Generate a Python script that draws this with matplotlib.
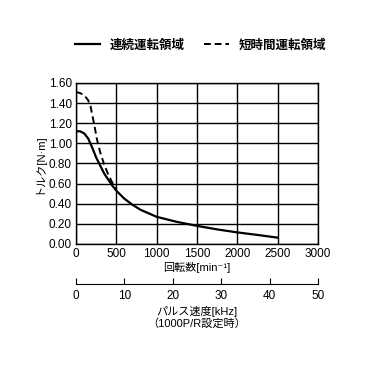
import matplotlib
matplotlib.use('Agg')
import matplotlib.pyplot as plt

plt.rcParams['font.family'] = ['Liberation Sans', 'Noto Sans CJK JP', 'DejaVu Sans']

# continuous operation region
cont_rpm = [0, 50, 100, 150, 200, 250, 300, 350, 400, 450, 500, 600, 700, 800, 1000, 1250, 1500, 1750, 2000, 2250, 2500]
cont_torque = [1.12, 1.12, 1.10, 1.05, 0.96, 0.86, 0.78, 0.70, 0.64, 0.58, 0.53, 0.45, 0.39, 0.34, 0.27, 0.22, 0.18, 0.145, 0.115, 0.09, 0.063]
# short-time operation region
short_rpm = [0, 50, 100, 150, 180, 200, 230, 260, 300, 350, 400, 450, 500]
short_torque = [1.51, 1.50, 1.48, 1.43, 1.37, 1.29, 1.17, 1.04, 0.91, 0.79, 0.69, 0.61, 0.55]

x_ticks = [0, 500, 1000, 1500, 2000, 2500, 3000]
y_ticks = [0.0, 0.2, 0.4, 0.6, 0.8, 1.0, 1.2, 1.4, 1.6]
khz_ticks = [0, 10, 20, 30, 40, 50]

fig = plt.figure(figsize=(3.68, 3.68), dpi=100)
ax = fig.add_axes([0.2065, 0.337, 0.6575, 0.4375])

l1, = ax.plot(cont_rpm, cont_torque, color='black', lw=1.6)
l2, = ax.plot(short_rpm, short_torque, color='black', lw=1.4, ls=(0, (3.5, 2)))

ax.set_xlim(0, 3000)
ax.set_ylim(0, 1.6)
ax.set_xticks(x_ticks)
ax.set_yticks(y_ticks)
ax.set_yticklabels(['%.2f' % v for v in y_ticks])
ax.grid(True, color='black', lw=1)
ax.tick_params(length=0, labelsize=8.5, pad=3)
for s in ax.spines.values():
    s.set_linewidth(1)
ax.set_xlabel('回転数[min⁻¹]', fontsize=8, labelpad=1)
ax.set_ylabel('トルク[N·m]', fontsize=8, labelpad=3)

# pulse speed axis
ax2 = fig.add_axes([0.2065, 0.228, 0.6575, 0.001])
ax2.set_xlim(0, 50)
ax2.set_xticks(khz_ticks)
ax2.set_yticks([])
for k in ['top', 'left', 'right']:
    ax2.spines[k].set_visible(False)
ax2.patch.set_alpha(0)
ax2.tick_params(axis='x', direction='in', length=4, labelsize=8.5, pad=4)
ax2.set_xlabel('パルス速度[kHz]\n（1000P/R設定時）', fontsize=8, labelpad=3, linespacing=1.1)

fig.legend([l1, l2], ['連続運転領域', '短時間運転領域'], loc='center', bbox_to_anchor=(0.545, 0.878),
           ncol=2, frameon=False, handlelength=2, columnspacing=1.5,
           prop={'family': ['Noto Sans CJK JP'], 'weight': 'bold', 'size': 9})

fig.savefig('out.png', dpi=100)
